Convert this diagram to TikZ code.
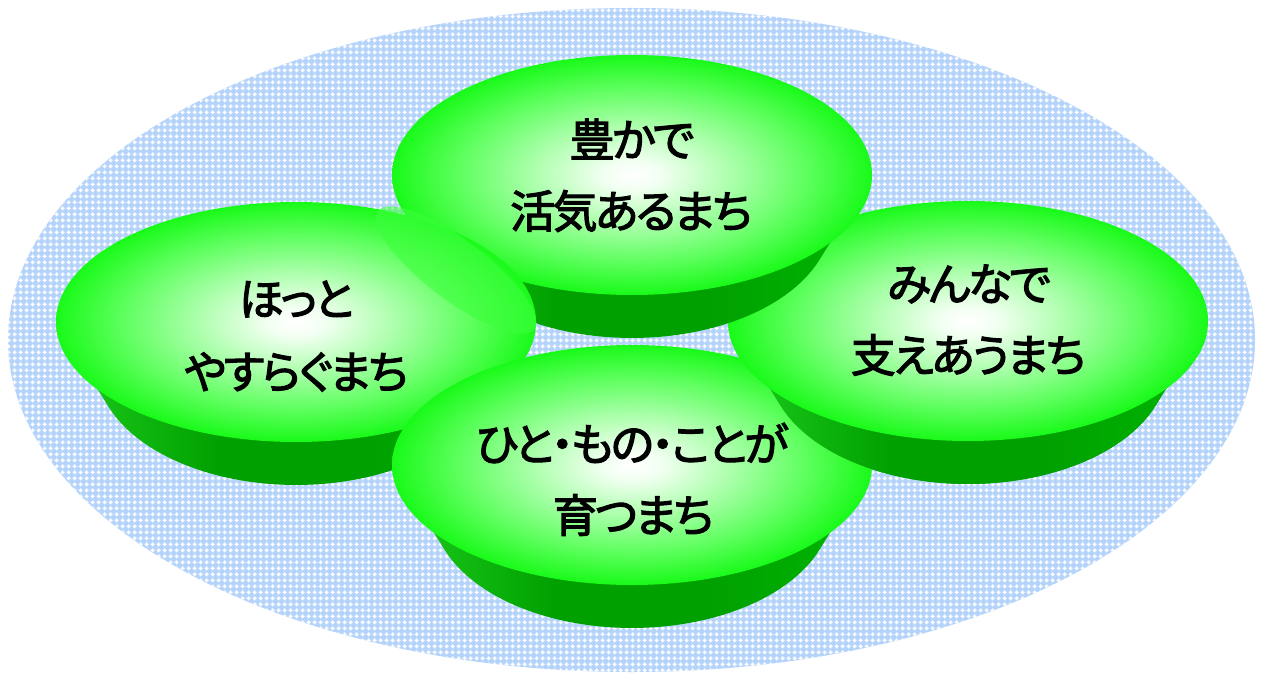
\documentclass[tikz,border=0pt]{standalone}
\usepackage{fontspec}
\newfontfamily\jp[RawFeature=+palt,FakeBold=2.5,LetterSpace=-6]{Noto Sans CJK JP}
\usetikzlibrary{patterns}
\definecolor{bgblue}{RGB}{180,211,250}
\definecolor{tA}{RGB}{242,255,242}
\definecolor{tB}{RGB}{175,255,175}
\definecolor{tC}{RGB}{95,255,95}
\definecolor{tD}{RGB}{25,250,25}
\definecolor{bL}{RGB}{30,205,30}
\definecolor{bM}{RGB}{0,160,0}
\definecolor{bR}{RGB}{0,182,0}
\definecolor{hl}{RGB}{60,255,60}
\pgfdeclareradialshading{dishtop}{\pgfpoint{0bp}{0bp}}{color(0bp)=(white); color(3bp)=(tA); color(10bp)=(tB); color(18bp)=(tC); color(25bp)=(tD); color(50bp)=(tD)}
\pgfdeclarehorizontalshading{band}{100bp}{color(0bp)=(bL); color(25bp)=(bL); color(42bp)=(bM); color(58bp)=(bM); color(75bp)=(bR); color(100bp)=(bR)}
\pgfdeclarepatternformonly{bluecross}{\pgfpointorigin}{\pgfpoint{3pt}{3pt}}{\pgfpoint{3pt}{3pt}}{%
  \pgfpathrectangle{\pgfpoint{1.1pt}{0.3pt}}{\pgfpoint{0.8pt}{2.4pt}}%
  \pgfpathrectangle{\pgfpoint{0.3pt}{1.1pt}}{\pgfpoint{2.4pt}{0.8pt}}%
  \pgfusepath{fill}}
\newcommand\dishband[2]{\shade[shading=band] ({#1+240},#2) -- plot[domain=20.4:159.6,samples=50] ({#1+200*cos(\x)},{#2+43+120*sin(\x)}) -- ({#1-240},#2) -- cycle;}
\newcommand\drawdishtop[2]{\shade[shading=dishtop] (#1,#2) ellipse [x radius=120pt, y radius=60pt];}
\newcommand\fulldish[2]{\dishband{#1}{#2}\drawdishtop{#1}{#2}}
\tikzset{label/.style={font=\jp\fontsize{22.5pt}{27pt}\selectfont, text=black, inner sep=0pt}}
\begin{document}
\begin{tikzpicture}[x=0.5pt,y=-0.5pt]
\useasboundingbox (0,0) rectangle (1262,679);
\fill[white] (0,0) rectangle (1262,679);
% background ellipse
\fill[bgblue] (631.5,340) ellipse [x radius=311.75pt, y radius=166pt];
\fill[pattern=bluecross, pattern color=white] (631.5,340) ellipse [x radius=311.75pt, y radius=166pt];
% dishes
\fulldish{968}{321}
\fulldish{632}{175}
\fulldish{296}{322}
\fill[hl, fill opacity=0.6, rotate around={-37:(456,270)}] (456,270) ellipse [x radius=49pt, y radius=15pt];
\fulldish{632}{465}
\begin{scope}
\clip (650,335) rectangle (1262,679);
\fulldish{968}{321}
\end{scope}
% labels
\node[label] (t1a) at (632,139) {豊かで};
\node[label] (t1b) at (631,211) {活気あるまち};
\node[label] (t2a) at (296,299) {ほっと};
\node[label] (t2b) at (296,372) {やすらぐまち};
\node[label] (t3a) at (969,284) {みんなで};
\node[label] (t3b) at (968,355) {支えあうまち};
\node[label] (t4a) at (632,443) {ひと・もの・ことが};
\node[label] (t4b) at (633,515) {育つまち};
\end{tikzpicture}
\end{document}
